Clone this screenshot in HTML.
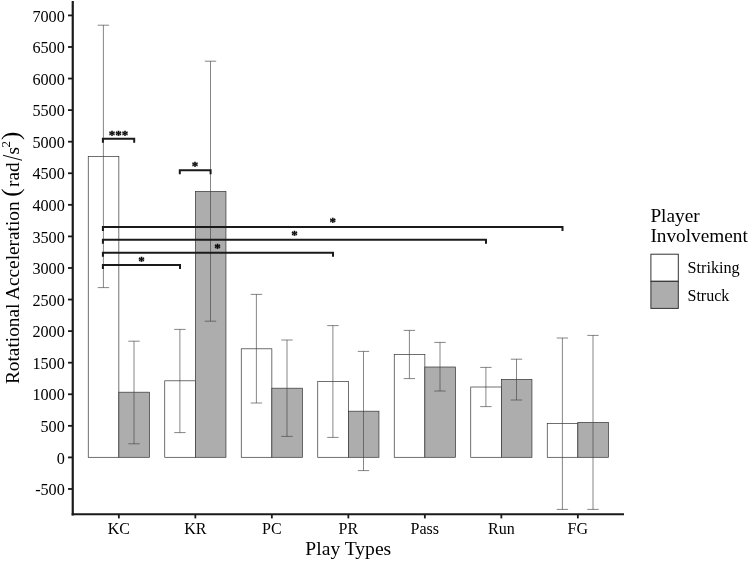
<!DOCTYPE html><html><head><meta charset="utf-8"><title>Play Types</title><style>html,body{margin:0;padding:0;background:#fff}svg{display:block}text{font-family:"Liberation Serif",serif;fill:#000000}</style></head><body>
<svg width="749" height="561" viewBox="0 0 749 561">
<rect width="749" height="561" fill="#fff"/>
<g stroke="#333333" stroke-width="0.7">
<rect x="88.25" y="156.40" width="30.60" height="300.90" fill="#fff"/>
<rect x="118.85" y="392.20" width="30.60" height="65.10" fill="#adadad"/>
<rect x="164.75" y="380.80" width="30.60" height="76.50" fill="#fff"/>
<rect x="195.35" y="191.40" width="30.60" height="265.90" fill="#adadad"/>
<rect x="241.25" y="348.80" width="30.60" height="108.50" fill="#fff"/>
<rect x="271.85" y="388.20" width="30.60" height="69.10" fill="#adadad"/>
<rect x="317.75" y="381.40" width="30.60" height="75.90" fill="#fff"/>
<rect x="348.35" y="411.20" width="30.60" height="46.10" fill="#adadad"/>
<rect x="394.25" y="354.40" width="30.60" height="102.90" fill="#fff"/>
<rect x="424.85" y="367.00" width="30.60" height="90.30" fill="#adadad"/>
<rect x="470.75" y="387.00" width="30.60" height="70.30" fill="#fff"/>
<rect x="501.35" y="379.40" width="30.60" height="77.90" fill="#adadad"/>
<rect x="547.25" y="423.40" width="30.60" height="33.90" fill="#fff"/>
<rect x="577.85" y="422.40" width="30.60" height="34.90" fill="#adadad"/>
</g>
<g stroke="#444444" stroke-width="0.65" fill="none">
<path d="M97.70 25.20H109.10M97.70 287.60H109.10M103.40 25.20V287.60"/>
<path d="M128.30 341.20H139.70M128.30 443.80H139.70M134.00 341.20V443.80"/>
<path d="M174.20 329.40H185.60M174.20 432.60H185.60M179.90 329.40V432.60"/>
<path d="M204.80 61.20H216.20M204.80 321.20H216.20M210.50 61.20V321.20"/>
<path d="M250.70 294.40H262.10M250.70 403.00H262.10M256.40 294.40V403.00"/>
<path d="M281.30 340.00H292.70M281.30 436.40H292.70M287.00 340.00V436.40"/>
<path d="M327.20 325.60H338.60M327.20 437.40H338.60M332.90 325.60V437.40"/>
<path d="M357.80 351.40H369.20M357.80 470.60H369.20M363.50 351.40V470.60"/>
<path d="M403.70 330.40H415.10M403.70 378.60H415.10M409.40 330.40V378.60"/>
<path d="M434.30 342.40H445.70M434.30 391.00H445.70M440.00 342.40V391.00"/>
<path d="M480.20 367.40H491.60M480.20 406.60H491.60M485.90 367.40V406.60"/>
<path d="M510.80 359.20H522.20M510.80 400.00H522.20M516.50 359.20V400.00"/>
<path d="M556.70 338.00H568.10M556.70 509.40H568.10M562.40 338.00V509.40"/>
<path d="M587.30 335.40H598.70M587.30 509.40H598.70M593.00 335.40V509.40"/>
</g>
<g stroke="#1a1a1a" stroke-width="2" fill="none">
<path d="M102.90 142.80V138.80H134.20V142.80"/>
<path d="M179.80 174.30V170.30H210.60V174.30"/>
<path d="M102.90 230.95V226.95H562.50V230.95"/>
<path d="M102.90 243.75V239.75H486.00V243.75"/>
<path d="M102.90 256.75V252.75H333.00V256.75"/>
<path d="M102.90 269.10V265.10H180.00V269.10"/>
</g>
<g font-weight="bold" font-size="13px" text-anchor="middle" stroke="#000" stroke-width="0.3">
<text x="118.6" y="138.7">***</text>
<text x="195.0" y="170.0">*</text>
<text x="332.8" y="226.4">*</text>
<text x="294.4" y="239.2">*</text>
<text x="217.6" y="252.2">*</text>
<text x="141.4" y="264.7">*</text>
</g>
<g stroke="#1a1a1a" fill="none">
<path d="M72.75 1V515.6" stroke-width="2.2"/><path d="M71.65 514.3H624" stroke-width="2"/>
<g stroke-width="1.8">
<path d="M68 488.97H72.5"/>
<path d="M68 457.40H72.5"/>
<path d="M68 425.83H72.5"/>
<path d="M68 394.26H72.5"/>
<path d="M68 362.69H72.5"/>
<path d="M68 331.12H72.5"/>
<path d="M68 299.54H72.5"/>
<path d="M68 267.97H72.5"/>
<path d="M68 236.40H72.5"/>
<path d="M68 204.83H72.5"/>
<path d="M68 173.26H72.5"/>
<path d="M68 141.69H72.5"/>
<path d="M68 110.12H72.5"/>
<path d="M68 78.55H72.5"/>
<path d="M68 46.98H72.5"/>
<path d="M68 15.41H72.5"/>
<path d="M118.85 514.3V518.4"/>
<path d="M195.35 514.3V518.4"/>
<path d="M271.85 514.3V518.4"/>
<path d="M348.35 514.3V518.4"/>
<path d="M424.85 514.3V518.4"/>
<path d="M501.35 514.3V518.4"/>
<path d="M577.85 514.3V518.4"/>
</g></g>
<g font-size="16.2px" text-anchor="end">
<text x="64.8" y="495.17">-500</text>
<text x="64.8" y="463.60">0</text>
<text x="64.8" y="432.03">500</text>
<text x="64.8" y="400.46">1000</text>
<text x="64.8" y="368.89">1500</text>
<text x="64.8" y="337.32">2000</text>
<text x="64.8" y="305.74">2500</text>
<text x="64.8" y="274.17">3000</text>
<text x="64.8" y="242.60">3500</text>
<text x="64.8" y="211.03">4000</text>
<text x="64.8" y="179.46">4500</text>
<text x="64.8" y="147.89">5000</text>
<text x="64.8" y="116.32">5500</text>
<text x="64.8" y="84.75">6000</text>
<text x="64.8" y="53.18">6500</text>
<text x="64.8" y="21.61">7000</text>
</g>
<g font-size="16px" text-anchor="middle">
<text x="118.85" y="533.6">KC</text>
<text x="195.35" y="533.6">KR</text>
<text x="271.85" y="533.6">PC</text>
<text x="348.35" y="533.6">PR</text>
<text x="424.85" y="533.6">Pass</text>
<text x="501.35" y="533.6">Run</text>
<text x="577.85" y="533.6">FG</text>
</g>
<text x="348.3" y="555.2" font-size="19.6px" text-anchor="middle">Play Types</text>
<text transform="translate(18.7 384) rotate(-90)" font-size="19.3px">Rotational Acceleration<tspan font-size="25px" x="187.2">(</tspan><tspan x="197">rad</tspan><tspan x="229.6">s</tspan><tspan font-size="13px" x="236.6" dy="-8.7">2</tspan><tspan font-size="25px" dy="8.7" x="243.9">)</tspan></text>
<text transform="translate(19 384) rotate(-90) translate(223.3 3.2) scale(0.76 1)" font-size="28.5px">/</text>
<text x="650.4" y="221.8" font-size="19.3px">Player</text>
<text x="650.4" y="241.8" font-size="19.3px">Involvement</text>
<rect x="650.9" y="254.2" width="27.4" height="27" fill="#fff" stroke="#333333" stroke-width="1"/>
<rect x="650.9" y="281.4" width="27.4" height="27" fill="#adadad" stroke="#333333" stroke-width="1"/>
<text x="687.5" y="272.6" font-size="16.2px">Striking</text>
<text x="687.5" y="301" font-size="16px">Struck</text>
</svg></body></html>
